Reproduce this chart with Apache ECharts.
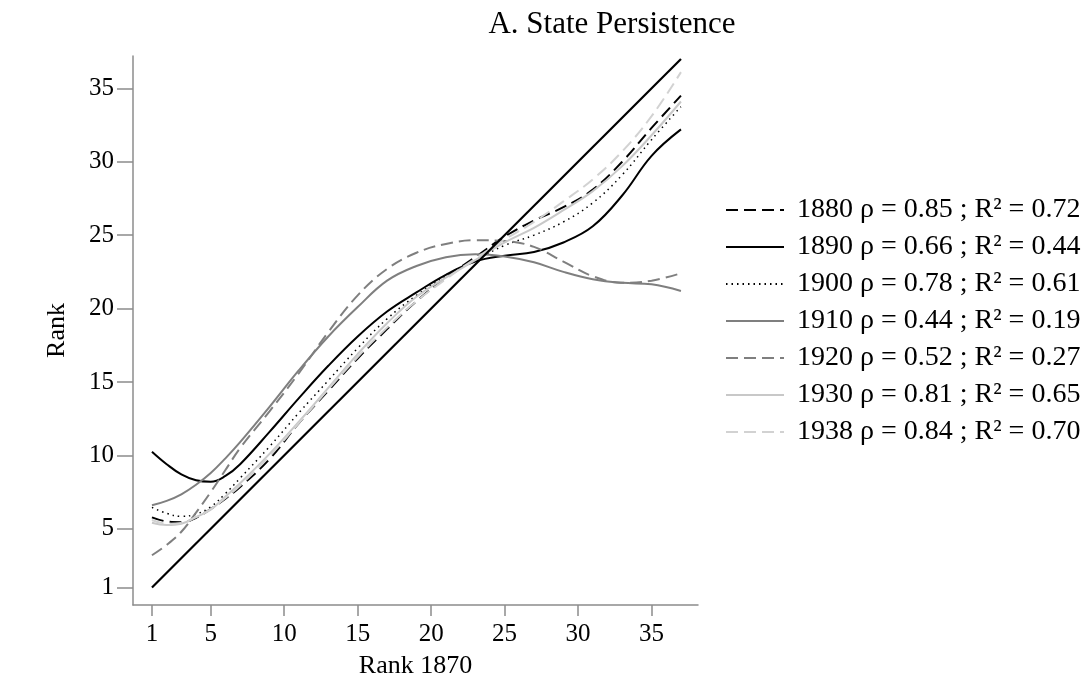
<!DOCTYPE html>
<html><head><meta charset="utf-8">
<script src="https://cdn.jsdelivr.net/npm/echarts@6/dist/echarts.min.js"></script>
<style>html,body{margin:0;padding:0;background:#fff}#c{width:1092px;height:681px}</style>
</head><body><div id="c"></div>
<script>
// Rank 1870 positions where curves were read
const rankX = [1,2,3,4,5,6,7,9,11,13,15,17,19,21,23,25,27,29,31,33,35,37];
const years = ['1880','1890','1900','1910','1920','1930','1938'];
const rho = ['0.85','0.66','0.78','0.44','0.52','0.81','0.84'];
const r2 = ['0.72','0.44','0.61','0.19','0.27','0.65','0.70'];
const y1880 = [5.78,5.5,5.45,5.75,6.35,7.05,7.85,9.75,12.2,14.4,16.6,18.6,20.5,22.1,23.5,24.9,26.0,26.9,28.1,30.0,32.3,34.5];
const y1890 = [10.25,9.4,8.7,8.3,8.2,8.6,9.4,11.6,13.9,16.1,18.1,19.8,21.1,22.3,23.2,23.6,23.85,24.5,25.6,27.7,30.4,32.2];
const y1900 = [6.46,6.05,5.85,6.0,6.5,7.4,8.45,10.6,12.9,15.1,17.3,19.3,20.9,22.2,23.3,24.3,25.0,25.9,27.2,29.1,31.5,33.75];
const y1910 = [6.6,6.9,7.35,8.0,8.8,9.8,10.9,13.3,15.8,18.1,20.1,21.9,22.9,23.5,23.7,23.55,23.15,22.5,22.0,21.75,21.65,21.2];
const y1920 = [3.2,3.9,4.8,6.1,7.5,9.0,10.5,13.0,15.6,18.4,20.9,22.7,23.8,24.4,24.65,24.6,24.2,23.2,22.2,21.75,21.9,22.4];
const y1930 = [5.41,5.26,5.35,5.8,6.3,7.2,8.1,10.1,12.3,14.6,16.9,19.0,20.8,22.1,23.3,24.5,25.5,26.7,28.0,29.7,31.8,34.1];
const y1938 = [5.6,5.35,5.4,5.8,6.35,7.1,7.95,9.95,12.2,14.5,16.7,18.7,20.5,22.0,23.4,24.7,25.9,27.3,28.8,30.7,33.1,36.1];
const diagX = [1,37];
const diagY = [1,37];
const tickValues = [1,5,10,15,20,25,30,35];

const values = [y1880,y1890,y1900,y1910,y1920,y1930,y1938];
const styles = [
  {color:'#000000', type:[12,6], width:2},
  {color:'#000000', type:'solid', width:2},
  {color:'#000000', type:[1.5,4], width:1.5},
  {color:'#7f7f7f', type:'solid', width:2},
  {color:'#7f7f7f', type:[12,6], width:2},
  {color:'#c8c8c8', type:'solid', width:2},
  {color:'#d2d2d2', type:[12,6], width:2}
];
const FONT = 'Liberation Serif';

const series = years.map((y,i)=>({
  name: y, type:'line', symbol:'none', smooth:0.4,
  data: rankX.map((x,j)=>[x, values[i][j]]),
  lineStyle: styles[i], itemStyle:{color:styles[i].color},
  z: 2
}));
series.push({
  name:'diag', type:'line', symbol:'none',
  data: diagX.map((x,j)=>[x, diagY[j]]),
  lineStyle:{color:'#000', width:2.2}, z:3
});

const chart = echarts.init(document.getElementById('c'));
chart.setOption({
  animation:false,
  backgroundColor:'#fff',
  title:{
    text:'A. State Persistence', left:607, top:4, textAlign:'center',
    textStyle:{fontFamily:FONT, fontSize:31, fontWeight:'normal', color:'#000'}
  },
  legend:{
    data: years, orient:'vertical', left:720, top:191,
    itemWidth:58, itemHeight:26, itemGap:9,
    itemStyle:{opacity:0},
    formatter: n => { const i = years.indexOf(n); return n + ' ρ = ' + rho[i] + ' ; R² = ' + r2[i]; },
    textStyle:{fontFamily:FONT, fontSize:28, color:'#000', lineHeight:26, padding:[0,0,0,8]}
  },
  grid:{left:133, right:394, top:56, bottom:76, containLabel:false, outerBoundsMode:'none'},
  xAxis:{
    type:'value', min:-0.29, max:38.16,
    name:'Rank 1870', nameLocation:'middle', nameGap:48,
    nameTextStyle:{fontFamily:FONT, fontSize:26, color:'#000'},
    axisLine:{show:true, onZero:false, lineStyle:{color:'#8c8c8c', width:1.5}},
    axisTick:{show:true, length:11, customValues:tickValues, lineStyle:{color:'#8c8c8c', width:1.5}},
    axisLabel:{customValues:tickValues, margin:17, fontFamily:FONT, fontSize:25, color:'#000'},
    splitLine:{show:false}
  },
  yAxis:{
    type:'value', min:-0.19, max:37.2,
    name:'Rank', nameLocation:'middle', nameGap:63,
    nameTextStyle:{fontFamily:FONT, fontSize:26, color:'#000'},
    axisLine:{show:true, onZero:false, lineStyle:{color:'#8c8c8c', width:1.5}},
    axisTick:{show:true, length:16, customValues:tickValues, lineStyle:{color:'#8c8c8c', width:1.5}},
    axisLabel:{customValues:tickValues, margin:19, fontFamily:FONT, fontSize:25, color:'#000'},
    splitLine:{show:false}
  },
  series: series
});
</script></body></html>
